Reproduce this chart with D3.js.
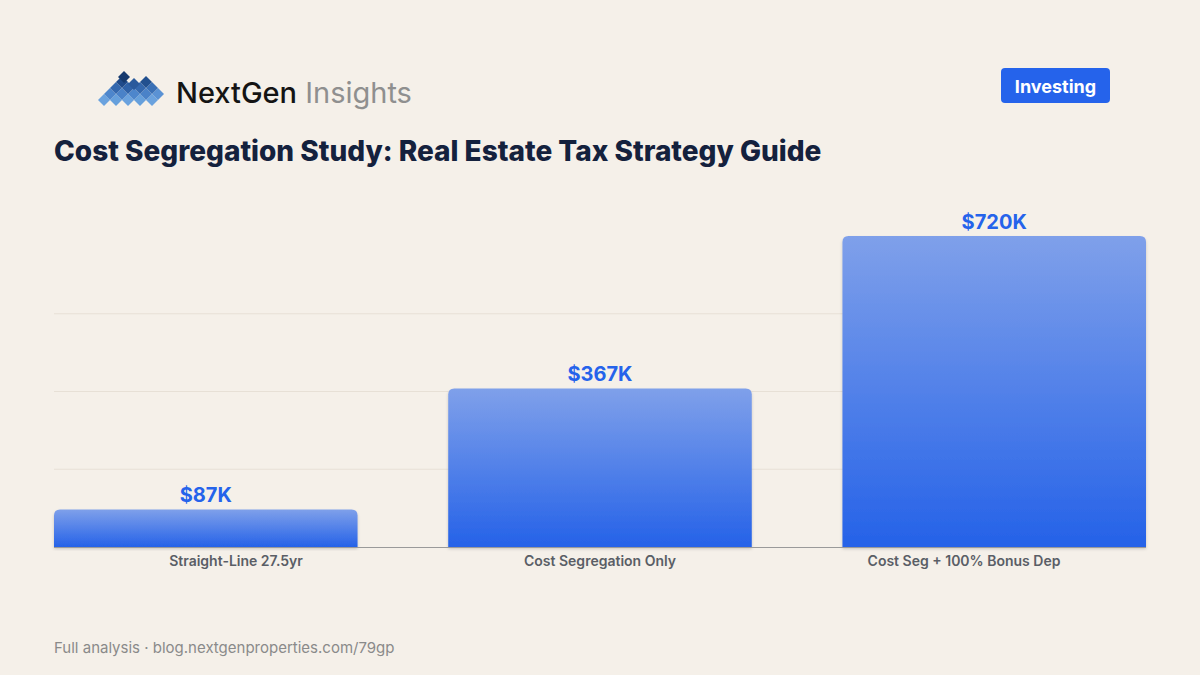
<!DOCTYPE html>
<html><head><meta charset="utf-8">
<script src="https://cdn.jsdelivr.net/npm/d3@7"></script>
<style>
html,body{margin:0;padding:0;background:#f5f0e9;}
svg{display:block;}
</style></head>
<body>
<svg id="c" width="1200" height="675"></svg>
<script>
const categories = ["Straight-Line 27.5yr", "Cost Segregation Only", "Cost Seg + 100% Bonus Dep"];
const values = [87, 367, 720];
const valueLabels = ["$87K", "$367K", "$720K"];
const gridTicks = [180, 360, 540];

const svg = d3.select("#c");
svg.append("rect").attr("width",1200).attr("height",675).attr("fill","#f5f0e9");
const defs = svg.append("defs");
const grad = defs.append("linearGradient").attr("id","bg").attr("x1",0).attr("x2",0).attr("y1",0).attr("y2",1);
grad.append("stop").attr("offset","0%").attr("stop-color","#7fa0ea");
grad.append("stop").attr("offset","100%").attr("stop-color","#2562e8");
const f = defs.append("filter").attr("id","sh").attr("x","-5%").attr("y","-5%").attr("width","110%").attr("height","115%");
f.append("feDropShadow").attr("dx",0).attr("dy",2).attr("stdDeviation",1.5).attr("flood-color","#000").attr("flood-opacity",0.18);

// Logo diamonds
const logo = svg.append("g");
const diamonds = [
  [104,100,"#6aa2de"],[116,100,"#66a0dc"],[128,100,"#6aa2de"],[140,100,"#66a0dc"],[152,100,"#6aa2de"],
  [110,94,"#4d86cc"],[122,94,"#4a82c8"],[134,94,"#4d86cc"],[146,94,"#4a82c8"],[158,94,"#5a92d4"],
  [116,88,"#3468ae"],[128,88,"#2f62a8"],[140,88,"#3468ae"],[152,88,"#3a70b6"],
  [122,82,"#1f4a8a"],[146,82,"#22508f"],[134,84,"#2a5a9c"],
  [124,77,"#163a6e"]
];
logo.selectAll("path").data(diamonds).join("path")
  .attr("d", d => `M${d[0]},${d[1]-6}L${d[0]+6},${d[1]}L${d[0]},${d[1]+6}L${d[0]-6},${d[1]}Z`)
  .attr("fill", d => d[2]);
const brand = svg.append("text").attr("x",176).attr("y",103)
  .attr("font-family","Inter, 'Noto Sans', sans-serif").attr("font-size",29);
brand.append("tspan").text("NextGen").attr("fill","#141414").attr("font-weight",500);
brand.append("tspan").text(" Insights").attr("fill","#8f8f8f").attr("font-weight",400);

// Badge
svg.append("rect").attr("x",1001).attr("y",68).attr("width",109).attr("height",35).attr("rx",4).attr("fill","#2563eb");
svg.append("text").attr("x",1055.5).attr("y",93).attr("text-anchor","middle")
  .attr("font-family","Inter, 'Noto Sans', sans-serif").attr("font-weight",700).attr("font-size",18)
  .attr("fill","#fff").text("Investing");

// Title
svg.append("text").attr("x",54).attr("y",161)
  .attr("font-family","Inter, 'Noto Sans', sans-serif").attr("font-weight",800).attr("font-size",28)
  .attr("fill","#14213d").text("Cost Segregation Study: Real Estate Tax Strategy Guide");

// Chart
const x = d3.scaleBand().domain(categories).range([54,1146]).paddingInner(0.23).paddingOuter(0);
const xLabel = d3.scaleBand().domain(categories).range([54,1146]).padding(0);
const y = d3.scaleLinear().domain([0,720]).range([547,236]);

svg.append("g").selectAll("line").data(gridTicks).join("line")
  .attr("x1",54).attr("x2",1146).attr("y1",d=>y(d)).attr("y2",d=>y(d))
  .attr("stroke","#e7e0d6").attr("stroke-width",1);

const r = 6;
svg.append("g").selectAll("path").data(values).join("path")
  .attr("filter","url(#sh)")
  .attr("fill","url(#bg)")
  .attr("d",(d,i)=>{
    const x0 = x(categories[i]), w = x.bandwidth(), y0 = y(d), yb = y(0);
    return `M${x0},${yb}V${y0+r}Q${x0},${y0} ${x0+r},${y0}H${x0+w-r}Q${x0+w},${y0} ${x0+w},${y0+r}V${yb}Z`;
  });

svg.append("line").attr("x1",54).attr("x2",1146).attr("y1",547.5).attr("y2",547.5)
  .attr("stroke","#9a9a9a").attr("stroke-width",1);

svg.append("g").selectAll("text").data(values).join("text")
  .attr("x",(d,i)=>x(categories[i])+x.bandwidth()/2).attr("y",d=>y(d)-7)
  .attr("text-anchor","middle").attr("font-family","Inter, 'Noto Sans', sans-serif")
  .attr("font-weight",700).attr("font-size",20).attr("fill","#2563eb")
  .text((d,i)=>valueLabels[i]);

const xAxis = svg.append("g").attr("transform","translate(0,547)")
  .call(d3.axisBottom(xLabel).tickSize(0).tickPadding(9));
xAxis.select(".domain").remove();
xAxis.selectAll("text").attr("font-family","Inter, 'Noto Sans', sans-serif").attr("font-size",14)
  .attr("font-weight",600).attr("fill","#5a5e66");

// Footer
svg.append("text").attr("x",54).attr("y",653).attr("font-family","Inter, 'Noto Sans', sans-serif")
  .attr("font-size",15).attr("fill","#8a8a8a").text("Full analysis · blog.nextgenproperties.com/79gp");
</script>
</body></html>
